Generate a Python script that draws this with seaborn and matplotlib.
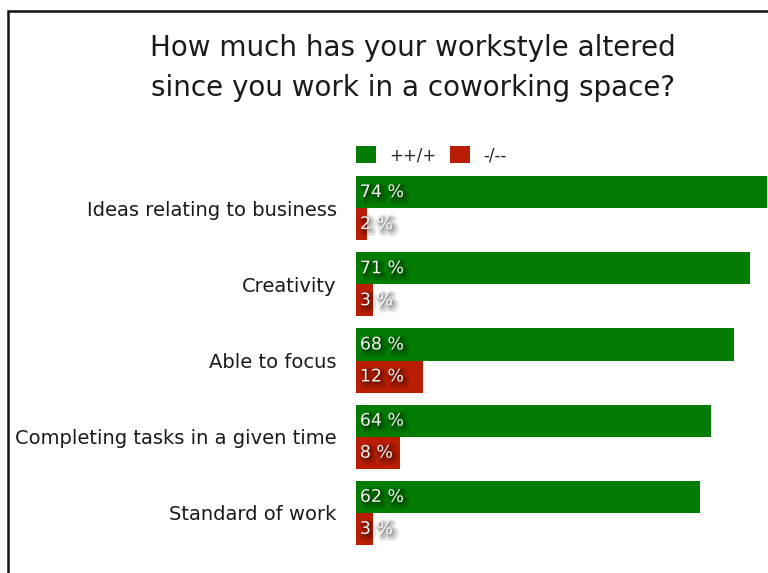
import matplotlib
matplotlib.use("Agg")
import matplotlib.pyplot as plt
import matplotlib.patheffects as pe
from matplotlib.patches import Rectangle
import pandas as pd
import seaborn as sns

# Survey results: share of respondents per answer group (in %)
categories = [
    "Ideas relating to business",
    "Creativity",
    "Able to focus",
    "Completing tasks in a given time",
    "Standard of work",
]
positive = [74, 71, 68, 64, 62]   # ++/+
negative = [2, 3, 12, 8, 3]       # -/--
series_names = ["++/+", "-/--"]
title = "How much has your workstyle altered\nsince you work in a coworking space?"

GREEN = "#037c03"
RED = "#b91d04"

df = pd.DataFrame({
    "category": categories * 2,
    "answer": [series_names[0]] * len(categories) + [series_names[1]] * len(categories),
    "value": positive + negative,
})

sns.set_theme(style="white")
plt.rcParams["font.family"] = ["DejaVu Sans"]

fig = plt.figure(figsize=(7.68, 5.73), dpi=100)
fig.patch.set_facecolor("white")
ax = fig.add_axes([356 / 768, 1 - 551 / 573, 1 - 356 / 768, (551 - 170) / 573])

sns.barplot(
    data=df, x="value", y="category", hue="answer",
    orient="h", palette=[GREEN, RED], width=0.84,
    saturation=1, ax=ax, legend=True, linewidth=0, edgecolor="none",
)

ax.set_xlim(0, 74.2)
ax.set_ylim(4.5, -0.5)
ax.set_xlabel("")
ax.set_ylabel("")
ax.set_xticks([])
for s in ax.spines.values():
    s.set_visible(False)
ax.tick_params(axis="y", length=0, pad=14, labelsize=14, labelcolor="#1a1a1a")

# value labels at the start of each bar, white with a soft drop shadow
shadow = [
    pe.SimpleLineShadow(offset=(2, -2), shadow_color="black", alpha=0.10, linewidth=6),
    pe.SimpleLineShadow(offset=(1.5, -1.5), shadow_color="black", alpha=0.14, linewidth=3),
    pe.SimplePatchShadow(offset=(1, -1), shadow_rgbFace="black", alpha=0.22),
    pe.Normal(),
]
for container, values in zip(ax.containers, [positive, negative]):
    for patch, v in zip(container.patches, values):
        ax.text(
            0.7, patch.get_y() + patch.get_height() / 2, f"{v} %",
            ha="left", va="center", fontsize=12.5, color="#f2f2f2",
            path_effects=shadow, zorder=5,
        )

# legend above the bars
handles, labels = ax.get_legend_handles_labels()
ax.legend(
    handles, labels, loc="center left",
    bbox_to_anchor=(356 / 768, 1 - 155 / 573), bbox_transform=fig.transFigure,
    ncol=2, frameon=False, fontsize=12, handlelength=1.2, handleheight=1.2,
    handletextpad=0.8, columnspacing=0.8, borderpad=0, borderaxespad=0,
)

fig.text(413 / 768, 1 - 68 / 573, title, ha="center", va="center",
         fontsize=20, color="#1a1a1a", linespacing=1.55)

# frame around the chart (right and bottom edges run off the image)
fig.patches.append(Rectangle(
    (8 / 768, -0.1), 1.2, 1 - 11 / 573 + 0.1, transform=fig.transFigure,
    fill=False, edgecolor="#111111", linewidth=1.8, zorder=10,
))

fig.savefig("out.png", dpi=100, facecolor="white")
